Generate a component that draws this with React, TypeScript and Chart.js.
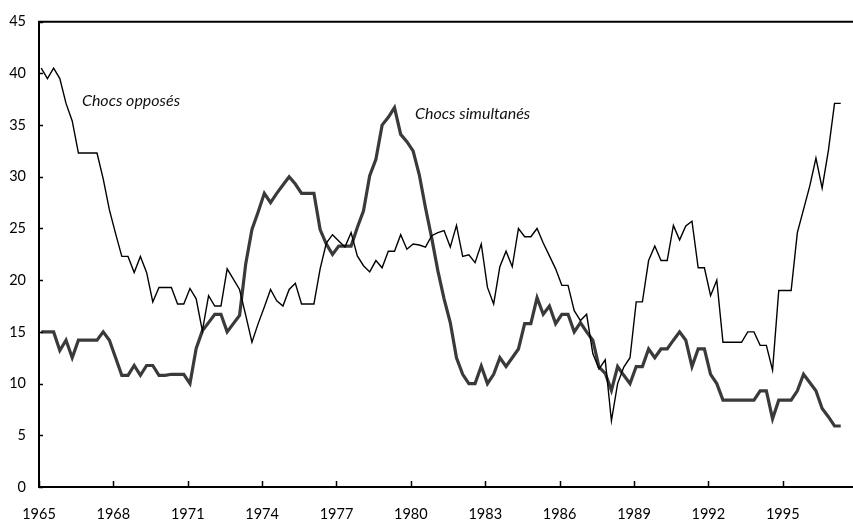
import React, { useEffect, useRef } from "react";
import { Chart, registerables } from "chart.js";

Chart.register(...registerables);

// Quarterly observations, 1965 Q1 onward
const firstYear = 1965;
const yearTicks = [1965, 1968, 1971, 1974, 1977, 1980, 1983, 1986, 1989, 1992, 1995];
const valueTicks = [0, 5, 10, 15, 20, 25, 30, 35, 40, 45];

const chocsOpposes = [
  40.5, 39.5, 40.5, 39.5, 37.1, 35.4, 32.3, 32.3, 32.3, 32.3,
  29.8, 26.8, 24.5, 22.3, 22.3, 20.75, 22.3, 20.75, 17.9, 19.3,
  19.3, 19.3, 17.7, 17.7, 19.2, 18.2, 15.1, 18.5, 17.5, 17.5,
  21.1, 20.1, 19.1, 16.6, 14.0, 15.8, 17.4, 19.1, 18.0, 17.5,
  19.1, 19.7, 17.7, 17.7, 17.7, 21.1, 23.6, 24.4, 23.8, 23.2,
  24.6, 22.35, 21.4, 20.8, 21.9, 21.2, 22.8, 22.8, 24.4, 23.0,
  23.5, 23.4, 23.2, 24.3, 24.6, 24.8, 23.2, 25.3, 22.3, 22.45,
  21.7, 23.5, 19.3, 17.7, 21.3, 22.8, 21.3, 25.0, 24.2, 24.2,
  25.0, 23.6, 22.35, 21.1, 19.5, 19.5, 17.05, 16.1, 16.7, 12.9,
  11.4, 12.3, 6.4, 10.0, 11.6, 12.5, 17.9, 17.9, 21.9, 23.3,
  21.9, 21.9, 25.3, 23.9, 25.25, 25.7, 21.2, 21.2, 18.5, 20.0,
  14.0, 14.0, 14.0, 14.0, 15.0, 15.0, 13.7, 13.7, 11.3, 19.0,
  19.0, 19.0, 24.6, 26.85, 29.1, 31.8, 28.9, 32.5, 37.1, 37.1,
];

const chocsSimultanes = [
  15.0, 15.0, 15.0, 13.2, 14.2, 12.5, 14.2, 14.2, 14.2, 14.2,
  15.0, 14.2, 12.5, 10.8, 10.8, 11.75, 10.8, 11.75, 11.75, 10.8,
  10.8, 10.9, 10.9, 10.9, 10.0, 13.4, 15.1, 15.9, 16.7, 16.7,
  15.0, 15.8, 16.6, 21.6, 24.9, 26.6, 28.4, 27.5, 28.4, 29.2,
  30.0, 29.3, 28.4, 28.4, 28.4, 24.9, 23.5, 22.5, 23.3, 23.3,
  23.3, 25.1, 26.7, 30.1, 31.7, 35.0, 35.75, 36.7, 34.1, 33.4,
  32.5, 30.2, 27.0, 24.1, 20.9, 18.2, 15.9, 12.5, 10.9, 10.0,
  10.0, 11.7, 10.0, 10.9, 12.5, 11.65, 12.5, 13.35, 15.8, 15.8,
  18.3, 16.7, 17.5, 15.8, 16.7, 16.7, 15.0, 15.9, 15.0, 14.2,
  11.6, 11.0, 9.35, 11.65, 10.8, 10.0, 11.65, 11.65, 13.35, 12.5,
  13.35, 13.35, 14.2, 15.0, 14.2, 11.65, 13.35, 13.35, 10.9, 10.0,
  8.4, 8.4, 8.4, 8.4, 8.4, 8.4, 9.3, 9.3, 6.6, 8.4,
  8.4, 8.4, 9.3, 10.9, 10.1, 9.3, 7.6, 6.8, 5.9, 5.9,
];

const seriesLabels = ["Chocs opposés", "Chocs simultanés"];
// annotation anchors in data units: [year, value]
const labelAnchors = [
  [1966.73, 37.3],
  [1980.17, 36.1],
];

const quarterX = (i: number) => firstYear + 0.09 + i * 0.25;

const FONT = "Lato, 'Open Sans', sans-serif";

const framePlugin = {
  id: "frame",
  afterDraw(chart: any) {
    const { ctx, chartArea, scales } = chart;
    const x = scales.x;
    const y = scales.y;
    ctx.save();
    ctx.strokeStyle = "#000";
    ctx.lineWidth = 2;
    ctx.beginPath();
    ctx.moveTo(chartArea.left - 1, chartArea.top);
    ctx.lineTo(chartArea.right, chartArea.top);
    ctx.moveTo(chartArea.left, chartArea.top);
    ctx.lineTo(chartArea.left, chartArea.bottom);
    ctx.moveTo(chartArea.left - 1, chartArea.bottom);
    ctx.lineTo(chartArea.right, chartArea.bottom);
    ctx.stroke();
    ctx.lineWidth = 1.5;
    ctx.beginPath();
    yearTicks.forEach((yr) => {
      const px = Math.round(x.getPixelForValue(yr)) + 0.5;
      ctx.moveTo(px, chartArea.bottom);
      ctx.lineTo(px, chartArea.bottom - 6);
    });
    valueTicks.forEach((v) => {
      const py = Math.round(y.getPixelForValue(v)) + 0.5;
      ctx.moveTo(chartArea.left, py);
      ctx.lineTo(chartArea.left + 4, py);
    });
    ctx.stroke();
    ctx.fillStyle = "#111";
    ctx.font = `italic 16px ${FONT}`;
    ctx.textBaseline = "middle";
    ctx.textAlign = "left";
    seriesLabels.forEach((t, k) => {
      const [ax, ay] = labelAnchors[k];
      ctx.fillText(t, x.getPixelForValue(ax), y.getPixelForValue(ay));
    });
    ctx.restore();
  },
};

export default function App() {
  const ref = useRef<HTMLCanvasElement | null>(null);
  useEffect(() => {
    if (!ref.current) return;
    const chart = new Chart(ref.current, {
      type: "line",
      data: {
        datasets: [
          {
            label: seriesLabels[0],
            data: chocsOpposes.map((v, i) => ({ x: quarterX(i), y: v })),
            borderColor: "#000",
            borderWidth: 1.4,
            pointRadius: 0,
            tension: 0,
            fill: false,
          },
          {
            label: seriesLabels[1],
            data: chocsSimultanes.map((v, i) => ({ x: quarterX(i), y: v })),
            borderColor: "#3a3a3a",
            borderWidth: 3.2,
            pointRadius: 0,
            tension: 0,
            fill: false,
          },
        ],
      },
      options: {
        animation: false,
        responsive: false,
        maintainAspectRatio: false,
        layout: { padding: { top: 20, right: 0, left: 0, bottom: 0 } },
        plugins: { legend: { display: false }, tooltip: { enabled: false } },
        scales: {
          x: {
            type: "linear",
            min: 1965,
            max: 1997.835,
            grid: { display: false, drawTicks: false },
            border: { display: false },
            afterBuildTicks: (scale: any) => {
              scale.ticks = yearTicks.map((v) => ({ value: v }));
            },
            afterFit: (scale: any) => {
              scale.height = 34;
            },
            ticks: {
              autoSkip: false,
              maxRotation: 0,
              padding: 19,
              color: "#000",
              font: { family: FONT, size: 14.5 },
              callback: (v: any) => String(v),
            },
          },
          y: {
            min: 0,
            max: 45,
            grid: { display: false, drawTicks: false },
            border: { display: false },
            afterBuildTicks: (scale: any) => {
              scale.ticks = valueTicks.map((v) => ({ value: v }));
            },
            afterFit: (scale: any) => {
              scale.width = 39;
            },
            ticks: {
              padding: 13,
              color: "#000",
              font: { family: FONT, size: 14.5 },
            },
          },
        },
      },
      plugins: [framePlugin],
    });
    return () => chart.destroy();
  }, []);
  return (
    <div style={{ position: "fixed", left: 0, top: 0, width: 853, height: 521, background: "#fff" }}>
      <canvas ref={ref} width={853} height={521} style={{ width: 853, height: 521, display: "block" }} />
    </div>
  );
}
